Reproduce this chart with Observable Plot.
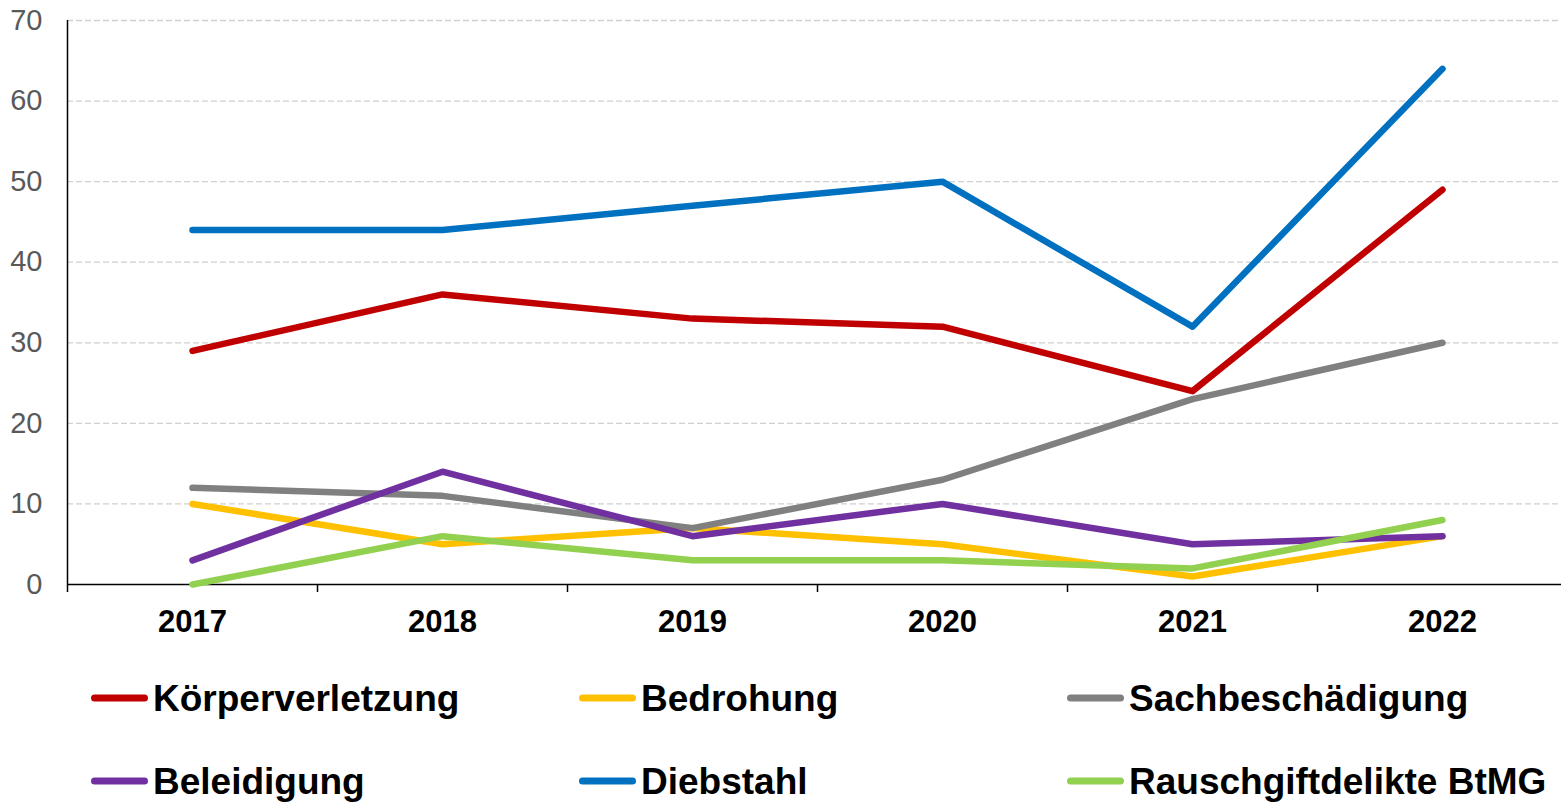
<!DOCTYPE html>
<html>
<head>
<meta charset="utf-8">
<script src="https://cdn.jsdelivr.net/npm/d3@7"></script>
<script src="https://cdn.jsdelivr.net/npm/@observablehq/plot@0.6"></script>
<style>
  html, body { margin: 0; padding: 0; background: #fff; }
  body { width: 1561px; height: 803px; overflow: hidden; font-family: "Liberation Sans", Arial, sans-serif; }
  #legend { position: relative; width: 1561px; height: 153px; }
  .item { position: absolute; display: flex; align-items: center; transform: translateY(-50%); }
  .sw { width: 57px; height: 7px; border-radius: 4px; margin-right: 5px; }
  .lab { font-size: 37px; font-weight: bold; color: #000; white-space: nowrap; line-height: 1; }
</style>
</head>
<body>
<div id="chart"></div>
<div id="legend"></div>
<script>
const years = [2017, 2018, 2019, 2020, 2021, 2022];
const seriesNames = ["Körperverletzung", "Bedrohung", "Sachbeschädigung", "Beleidigung", "Diebstahl", "Rauschgiftdelikte BtMG"];
const colors = ["#C00000", "#FFC000", "#808080", "#7030A0", "#0070C0", "#92D050"];
const koerperverletzung = [29, 36, 33, 32, 24, 49];
const bedrohung = [10, 5, 7, 5, 1, 6];
const sachbeschaedigung = [12, 11, 7, 13, 23, 30];
const beleidigung = [3, 14, 6, 10, 5, 6];
const diebstahl = [44, 44, 47, 50, 32, 64];
const rauschgift = [0, 6, 3, 3, 2, 8];
const yTicks = [0, 10, 20, 30, 40, 50, 60, 70];
const xBoundaries = [2016.5, 2017.5, 2018.5, 2019.5, 2020.5, 2021.5];

const allValues = [koerperverletzung, bedrohung, sachbeschaedigung, beleidigung, diebstahl, rauschgift];
const data = [];
seriesNames.forEach((s, i) => {
  years.forEach((yr, j) => data.push({series: s, year: yr, value: allValues[i][j]}));
});

const font = '"Liberation Sans", Arial, sans-serif';

const chart = Plot.plot({
  width: 1561,
  height: 650,
  marginLeft: 67,
  marginRight: 0,
  marginTop: 20,
  marginBottom: 66,
  style: {fontFamily: font, background: "#fff", overflow: "visible"},
  x: {type: "linear", domain: [2016.5, 2022.476], axis: null},
  y: {domain: [0, 70], axis: null},
  color: {domain: seriesNames, range: colors},
  marks: [
    Plot.ruleY(yTicks.filter(d => d > 0), {stroke: "#D0D0D0", strokeWidth: 1.3, strokeDasharray: "6,3"}),
    Plot.ruleY([0], {stroke: "#000", strokeWidth: 1.5}),
    Plot.ruleX([2016.5], {y1: -1, y2: 70, stroke: "#000", strokeWidth: 1.5}),
    Plot.ruleX(xBoundaries.slice(1), {y1: 0, y2: -1, stroke: "#000", strokeWidth: 1.5}),
    Plot.text(yTicks, {x: 2016.5, y: d => d, text: d => String(d), textAnchor: "end", dx: -25, fontSize: 29, fill: "#595959"}),
    Plot.text(years, {x: d => d, y: 0, text: d => String(d), dy: 38, fontSize: 31, fontWeight: "bold", fill: "#000"}),
    Plot.line(data, {x: "year", y: "value", z: "series", stroke: "series", strokeWidth: 6.5, strokeLinecap: "round", strokeLinejoin: "round"})
  ]
});
document.getElementById("chart").appendChild(chart);

const legend = document.getElementById("legend");
const colX = [91, 579, 1067];
const rowY = [48, 131];
seriesNames.forEach((s, i) => {
  const it = document.createElement("div");
  it.className = "item";
  it.style.left = colX[i % 3] + "px";
  it.style.top = rowY[Math.floor(i / 3)] + "px";
  const sw = document.createElement("div");
  sw.className = "sw";
  sw.style.background = colors[i];
  const lab = document.createElement("span");
  lab.className = "lab";
  lab.textContent = s;
  it.appendChild(sw);
  it.appendChild(lab);
  legend.appendChild(it);
});
</script>
</body>
</html>
